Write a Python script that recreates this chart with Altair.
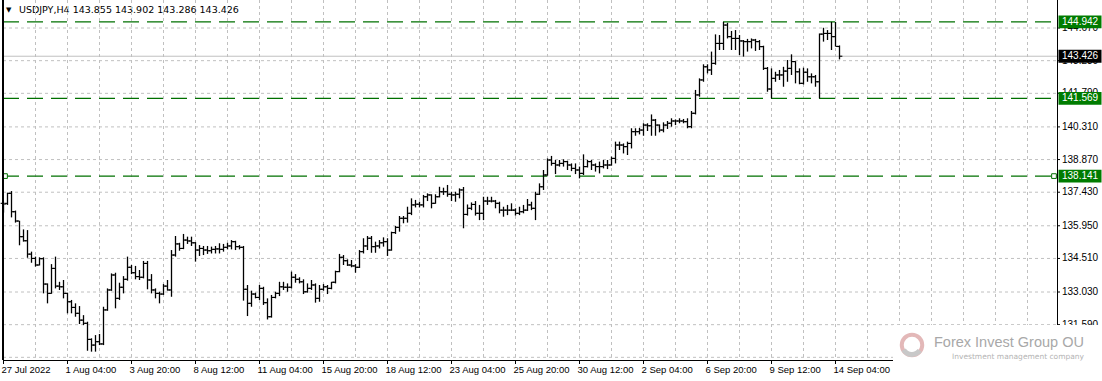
import altair as alt
import pandas as pd

# ---------------- data ----------------
opens = [136.94, 136.94, 137.38, 136.57, 136.16, 135.47, 135.29, 134.70, 134.51, 134.22,
         134.50, 133.38, 132.97, 134.07, 133.29, 133.26, 132.97, 132.60, 132.35, 132.09,
         131.79, 131.65, 130.94, 130.69, 130.84, 130.74, 132.24, 133.12, 133.78, 132.75,
         133.24, 133.59, 134.12, 133.88, 133.71, 133.68, 134.29, 133.56, 133.12, 132.97,
         132.94, 133.29, 133.12, 134.66, 135.15, 134.95, 135.32, 135.28, 135.20, 134.88,
         134.95, 134.88, 134.85, 134.91, 134.93, 134.91, 135.00, 135.06, 135.25, 135.03,
         135.00, 133.15, 132.53, 132.94, 132.79, 133.19, 132.56, 131.94, 132.79, 132.97,
         133.26, 133.24, 133.24, 133.68, 133.59, 133.48, 133.04, 133.19, 133.34, 132.75,
         133.15, 133.26, 133.19, 133.46, 133.93, 134.56, 134.41, 134.22, 134.18, 134.12,
         134.81, 135.06, 135.40, 135.03, 135.06, 135.20, 135.25, 134.88, 135.65, 135.88,
         136.28, 136.28, 136.50, 136.87, 136.90, 136.87, 137.23, 137.31, 136.94, 137.23,
         137.45, 137.45, 137.34, 137.31, 137.34, 137.53, 136.45, 136.72, 136.89, 136.50,
         136.50, 137.04, 137.04, 137.04, 136.94, 136.64, 136.64, 136.64, 136.64, 136.50,
         136.57, 136.64, 136.87, 136.72, 137.34, 137.67, 138.19, 138.85, 138.70, 138.63,
         138.70, 138.78, 138.63, 138.48, 138.41, 138.26, 138.56, 138.78, 138.63, 138.56,
         138.56, 138.63, 138.63, 138.92, 139.51, 139.51, 139.44, 139.58, 140.10, 140.10,
         140.17, 140.39, 140.36, 140.61, 140.39, 140.17, 140.39, 140.47, 140.57, 140.57,
         140.57, 140.54, 140.32, 140.91, 141.72, 142.38, 142.96, 142.82, 143.11, 143.99,
         143.99, 144.80, 144.29, 144.21, 144.21, 144.10, 144.07, 144.07, 144.14, 144.07,
         143.85, 142.89, 141.98, 142.45, 142.60, 142.60, 142.77, 142.89, 143.19, 142.74,
         142.23, 142.72, 142.52, 142.52, 142.30, 144.40, 144.43, 144.43, 144.29, 143.855]

highs = [137.01, 137.41, 137.48, 136.62, 136.17, 135.79, 135.76, 134.81, 134.59, 134.56,
         134.56, 133.41, 134.26, 134.59, 133.48, 133.56, 133.00, 132.68, 132.53, 132.41,
         132.01, 131.72, 130.99, 131.13, 131.18, 132.38, 133.19, 133.85, 133.88, 133.44,
         133.73, 134.59, 134.22, 134.18, 134.00, 134.40, 134.40, 133.82, 133.19, 133.04,
         133.38, 133.56, 134.88, 135.50, 135.20, 135.59, 135.47, 135.47, 135.23, 135.10,
         135.06, 135.06, 135.03, 135.06, 135.18, 135.15, 135.20, 135.32, 135.29, 135.10,
         135.06, 133.34, 133.09, 133.00, 133.34, 133.26, 132.75, 132.90, 133.04, 133.48,
         133.48, 133.41, 133.93, 133.82, 133.68, 133.59, 133.41, 133.56, 133.41, 133.34,
         133.38, 133.34, 133.48, 133.97, 134.71, 134.66, 134.47, 134.44, 134.26, 134.88,
         135.40, 135.50, 135.50, 135.25, 135.32, 135.44, 135.40, 135.69, 135.94, 136.38,
         136.38, 136.79, 137.16, 137.09, 137.01, 137.31, 137.38, 137.34, 137.34, 137.67,
         137.63, 137.75, 137.45, 137.45, 137.60, 137.66, 136.89, 136.98, 137.04, 136.87,
         137.23, 137.23, 137.23, 137.09, 137.01, 136.79, 136.87, 136.94, 136.72, 136.79,
         136.87, 137.13, 137.01, 137.45, 137.82, 138.41, 138.92, 139.03, 138.85, 138.85,
         138.88, 138.82, 138.70, 138.70, 138.56, 139.10, 138.85, 138.85, 138.70, 138.78,
         138.85, 138.85, 139.00, 139.66, 139.66, 139.58, 139.66, 140.25, 140.25, 140.27,
         140.47, 140.47, 140.86, 140.66, 140.42, 140.51, 140.57, 140.69, 140.64, 140.69,
         140.66, 140.69, 141.01, 141.94, 142.45, 143.07, 143.07, 143.63, 144.39, 144.36,
         144.94, 144.90, 144.54, 144.58, 144.36, 144.14, 144.19, 144.21, 144.19, 144.14,
         143.89, 142.95, 142.89, 142.74, 142.82, 142.96, 143.26, 143.51, 143.21, 142.89,
         142.92, 142.89, 142.67, 142.60, 144.43, 144.68, 144.58, 144.94, 144.94, 143.902]

lows = [136.53, 136.87, 136.32, 136.09, 135.09, 135.25, 134.54, 134.32, 134.15, 134.20,
        132.97, 132.53, 132.95, 133.19, 133.12, 132.75, 132.09, 132.09, 131.94, 131.62,
        131.57, 130.44, 130.40, 130.40, 130.69, 130.69, 132.20, 133.08, 132.31, 132.68,
        132.97, 133.53, 133.82, 133.59, 133.56, 133.63, 133.15, 132.97, 132.75, 132.53,
        132.90, 133.09, 132.82, 134.59, 134.85, 134.92, 135.15, 135.06, 134.37, 134.62,
        134.66, 134.71, 134.73, 134.73, 134.73, 134.81, 134.91, 134.91, 134.88, 134.91,
        132.65, 131.97, 132.38, 132.75, 132.68, 132.46, 131.82, 131.90, 132.75, 132.85,
        133.12, 133.04, 133.19, 133.44, 133.41, 132.94, 133.00, 133.12, 132.56, 132.60,
        133.09, 132.94, 133.15, 133.41, 133.90, 134.22, 134.18, 134.12, 133.88, 134.09,
        134.73, 134.88, 134.76, 134.76, 134.95, 135.03, 134.62, 134.85, 135.59, 135.69,
        136.06, 136.09, 136.42, 136.76, 136.76, 136.76, 137.04, 136.72, 136.92, 137.20,
        137.31, 137.23, 137.04, 137.01, 137.16, 135.84, 136.40, 136.64, 136.40, 136.20,
        136.20, 136.87, 136.98, 136.72, 136.50, 136.35, 136.42, 136.60, 136.40, 136.42,
        136.50, 136.60, 136.64, 136.20, 137.31, 137.53, 138.16, 138.60, 138.23, 138.56,
        138.56, 138.41, 138.36, 138.23, 138.04, 138.19, 138.52, 138.41, 138.34, 138.26,
        138.48, 138.45, 138.60, 138.70, 139.29, 139.14, 139.07, 139.36, 139.92, 139.98,
        139.92, 140.13, 139.92, 139.92, 140.07, 140.07, 140.22, 140.32, 140.39, 140.47,
        140.47, 140.25, 140.25, 140.86, 141.64, 142.30, 142.67, 142.60, 143.05, 143.70,
        143.70, 144.21, 143.70, 143.70, 143.48, 143.41, 143.63, 143.77, 143.66, 143.70,
        142.82, 141.86, 141.57, 142.30, 142.38, 142.08, 142.30, 142.60, 142.23, 142.19,
        142.18, 142.30, 142.23, 142.08, 141.57, 144.07, 144.14, 143.70, 143.85, 143.286]

closes = [136.91, 137.38, 136.57, 136.16, 135.47, 135.29, 134.70, 134.51, 134.22, 134.50,
          133.38, 132.97, 134.07, 133.29, 133.26, 132.97, 132.60, 132.35, 132.09, 131.79,
          131.65, 130.94, 130.69, 130.84, 130.74, 132.24, 133.12, 133.78, 132.75, 133.24,
          133.59, 134.12, 133.88, 133.71, 133.68, 134.29, 133.56, 133.12, 132.97, 132.94,
          133.29, 133.12, 134.66, 135.15, 134.95, 135.32, 135.28, 135.20, 134.88, 134.95,
          134.88, 134.85, 134.91, 134.93, 134.91, 135.00, 135.06, 135.25, 135.03, 135.00,
          133.15, 132.53, 132.94, 132.79, 133.19, 132.56, 131.94, 132.79, 132.97, 133.26,
          133.24, 133.24, 133.68, 133.59, 133.48, 133.04, 133.19, 133.34, 132.75, 133.15,
          133.26, 133.19, 133.46, 133.93, 134.56, 134.41, 134.22, 134.18, 134.12, 134.81,
          135.06, 135.40, 135.03, 135.06, 135.20, 135.25, 134.88, 135.65, 135.88, 136.28,
          136.28, 136.50, 136.87, 136.90, 136.87, 137.23, 137.31, 136.94, 137.23, 137.45,
          137.45, 137.34, 137.31, 137.34, 137.53, 136.45, 136.72, 136.89, 136.50, 136.50,
          137.04, 137.04, 137.04, 136.94, 136.64, 136.64, 136.64, 136.64, 136.50, 136.57,
          136.64, 136.87, 136.72, 137.34, 137.67, 138.19, 138.85, 138.70, 138.63, 138.70,
          138.78, 138.63, 138.48, 138.41, 138.26, 138.56, 138.78, 138.63, 138.56, 138.56,
          138.63, 138.63, 138.92, 139.51, 139.51, 139.44, 139.58, 140.10, 140.10, 140.17,
          140.39, 140.36, 140.61, 140.39, 140.17, 140.39, 140.47, 140.57, 140.57, 140.57,
          140.54, 140.32, 140.91, 141.72, 142.38, 142.96, 142.82, 143.11, 143.99, 143.99,
          144.80, 144.29, 144.21, 144.21, 144.10, 144.07, 144.07, 144.14, 144.07, 143.85,
          142.89, 141.98, 142.45, 142.60, 142.60, 142.77, 142.89, 143.19, 142.74, 142.23,
          142.72, 142.52, 142.52, 142.30, 144.40, 144.43, 144.43, 144.29, 143.86, 143.426]

bar_index = list(range(len(opens)))

time_labels = ["27 Jul 2022", "1 Aug 04:00", "3 Aug 20:00", "8 Aug 12:00", "11 Aug 04:00",
               "15 Aug 20:00", "18 Aug 12:00", "23 Aug 04:00", "25 Aug 20:00", "30 Aug 12:00",
               "2 Sep 04:00", "6 Sep 20:00", "9 Sep 12:00", "14 Sep 04:00"]
time_label_idx = [0, 16, 32, 48, 64, 80, 96, 112, 128, 144, 160, 176, 192, 208]

price_labels = [144.670, 143.230, 141.790, 140.310, 138.870, 137.430,
                135.950, 134.510, 133.030, 131.590]
grid_prices = price_labels + [130.150]
vgrid_idx = [8, 16, 24, 32, 40, 48, 56, 64, 72, 80, 88, 96, 104, 112, 120, 128,
             136, 144, 152, 160, 168, 176, 184, 192, 200, 208, 216, 224, 232, 240,
             248, 256]

level_prices = [144.942, 141.569, 138.141]
bid_price = [143.426]
title_text = "USDJPY,H4  143.855 143.902 143.286 143.426"

# ---------------- chart ----------------
W, H = 1054, 360
FONT = "DejaVu Sans"
AXFONT = "Liberation Sans"
xs = alt.Scale(domain=[-0.125, 263.375], nice=False, zero=False)
ys = alt.Scale(domain=[130.032, 145.905], nice=False, zero=False)


def X(f="i"):
    return alt.X(f"{f}:Q", scale=xs, axis=None)


def Y(f="p"):
    return alt.Y(f"{f}:Q", scale=ys, axis=None)


bars = pd.DataFrame({"i": bar_index, "o": opens, "h": highs, "l": lows, "c": closes})

title = alt.Chart(pd.DataFrame({"t": [title_text]})).mark_text(
    align="left", baseline="middle", font=FONT, fontSize=9.5, color="black"
).encode(x=alt.value(16), y=alt.value(10), text="t:N")

tri = alt.Chart(pd.DataFrame({"t": ["▼"]})).mark_text(
    align="left", baseline="middle", font=FONT, fontSize=7, color="black"
).encode(x=alt.value(3), y=alt.value(10), text="t:N")

hgrid = alt.Chart(pd.DataFrame({"p": grid_prices})).mark_rule(
    color="#c0c0c0", strokeDash=[3, 3], strokeWidth=1
).encode(y=Y(), x=alt.value(0), x2=alt.value(W))

vgrid = alt.Chart(pd.DataFrame({"i": vgrid_idx})).mark_rule(
    color="#c0c0c0", strokeDash=[3, 3], strokeWidth=1
).encode(x=X(), y=alt.value(0), y2=alt.value(H))

bidline = alt.Chart(pd.DataFrame({"p": bid_price})).mark_rule(
    color="#c0c0c0", strokeWidth=1
).encode(y=Y(), x=alt.value(0), x2=alt.value(W))

levels = alt.Chart(pd.DataFrame({"p": level_prices})).mark_rule(
    color="#007000", strokeDash=[16, 8], strokeWidth=1.2
).encode(y=Y(), x=alt.value(0), x2=alt.value(W))

anchors = alt.Chart(pd.DataFrame({"p": [138.141, 138.141], "px": [2, 1051]})).mark_square(
    size=22, fill="white", stroke="#007000", strokeWidth=1, opacity=1
).encode(x=alt.X("px:Q", scale=None, axis=None), y=Y())

hl = alt.Chart(bars).mark_rule(color="black", strokeWidth=1.3).encode(
    x=X(), y=Y("l"), y2="h:Q")
otick = alt.Chart(bars).mark_tick(
    orient="horizontal", size=2.5, thickness=1.1, color="black", xOffset=-1.6, opacity=1
).encode(x=X(), y=Y("o"))
ctick = alt.Chart(bars).mark_tick(
    orient="horizontal", size=2.5, thickness=1.1, color="black", xOffset=1.6, opacity=1
).encode(x=X(), y=Y("c"))

left_border = alt.Chart(pd.DataFrame({"a": [0]})).mark_rule(color="black", strokeWidth=2).encode(
    x=alt.value(0), y=alt.value(0), y2=alt.value(H))
bottom_axis = alt.Chart(pd.DataFrame({"a": [0]})).mark_rule(color="black", strokeWidth=1).encode(
    x=alt.value(0), x2=alt.value(W), y=alt.value(H + 0.5))
right_axis = alt.Chart(pd.DataFrame({"a": [0]})).mark_rule(color="black", strokeWidth=1).encode(
    x=alt.value(W + 0.5), y=alt.value(0), y2=alt.value(H))

ptick = alt.Chart(pd.DataFrame({"p": price_labels})).mark_rule(color="black", strokeWidth=1).encode(
    y=Y(), x=alt.value(W), x2=alt.value(W + 3))
ptext = alt.Chart(pd.DataFrame({"p": price_labels})).mark_text(
    align="left", baseline="middle", font=AXFONT, fontSize=10, color="black"
).encode(y=Y(), x=alt.value(W + 5), text=alt.Text("p:Q", format=".3f"))

BOX = "M-1,-0.3L1,-0.3L1,0.3L-1,0.3Z"
lvl_box = alt.Chart(pd.DataFrame({"p": level_prices})).mark_point(
    shape=BOX, size=1849, filled=True, color="#007c00", opacity=1, strokeWidth=0
).encode(y=Y(), x=alt.value(W + 23))
lvl_txt = alt.Chart(pd.DataFrame({"p": level_prices})).mark_text(
    align="left", baseline="middle", font=AXFONT, fontSize=10, color="white"
).encode(y=Y(), x=alt.value(W + 5), text=alt.Text("p:Q", format=".3f"))
bid_box = alt.Chart(pd.DataFrame({"p": bid_price})).mark_point(
    shape=BOX, size=1849, filled=True, color="black", opacity=1, strokeWidth=0
).encode(y=Y(), x=alt.value(W + 23))
bid_txt = alt.Chart(pd.DataFrame({"p": bid_price})).mark_text(
    align="left", baseline="middle", font=AXFONT, fontSize=10, color="white"
).encode(y=Y(), x=alt.value(W + 5), text=alt.Text("p:Q", format=".3f"))

tdf = pd.DataFrame({"i": time_label_idx, "t": time_labels})
ttick = alt.Chart(tdf).mark_rule(color="black", strokeWidth=1).encode(
    x=X(), y=alt.value(H), y2=alt.value(H + 4))
ttext = alt.Chart(tdf).mark_text(
    align="left", baseline="middle", font=AXFONT, fontSize=9.5, color="black", dx=-2
).encode(x=X(), y=alt.value(H + 10), text="t:N")

# watermark (logo block in the lower-right corner)
wm_bg = alt.Chart(pd.DataFrame({"a": [0]})).mark_rect(color="white", opacity=1).encode(
    x=alt.value(890), x2=alt.value(1099), y=alt.value(325), y2=alt.value(381))
wm_ring = alt.Chart(pd.DataFrame({"a": [0]})).mark_point(
    shape="circle", size=420, filled=False, stroke="#e3b8b8", strokeWidth=4, opacity=1
).encode(x=alt.value(909), y=alt.value(345))
wm_ring2 = alt.Chart(pd.DataFrame({"a": [0]})).mark_arc(
    innerRadius=7, outerRadius=12, theta=2.2, theta2=4.2, color="#c8c8c8"
).encode(x=alt.value(909), y=alt.value(345))
wm_t1 = alt.Chart(pd.DataFrame({"t": ["Forex Invest Group OU"]})).mark_text(
    align="left", baseline="middle", font="Liberation Sans", fontSize=14.5,
    color="#a8a8a8"
).encode(x=alt.value(931), y=alt.value(343), text="t:N")
wm_t2 = alt.Chart(pd.DataFrame({"t": ["Investment management company"]})).mark_text(
    align="left", baseline="middle", font=FONT, fontSize=7.5, color="#b4b4b4"
).encode(x=alt.value(949), y=alt.value(357), text="t:N")

chart = alt.layer(
    title, tri, hgrid, vgrid, bidline, levels, hl, otick, ctick, anchors,
    left_border, bottom_axis, right_axis, ptick, ptext,
    lvl_box, lvl_txt, bid_box, bid_txt, ttick, ttext,
    wm_bg, wm_ring, wm_ring2, wm_t1, wm_t2
).properties(
    width=W, height=H,
    padding={"left": 3, "top": 0, "right": 45, "bottom": 21},
    autosize=alt.AutoSizeParams(type="none"),
    background="white",
).configure_view(stroke=None)

chart.save("out.html", embed_options={"renderer": "svg", "actions": False})
